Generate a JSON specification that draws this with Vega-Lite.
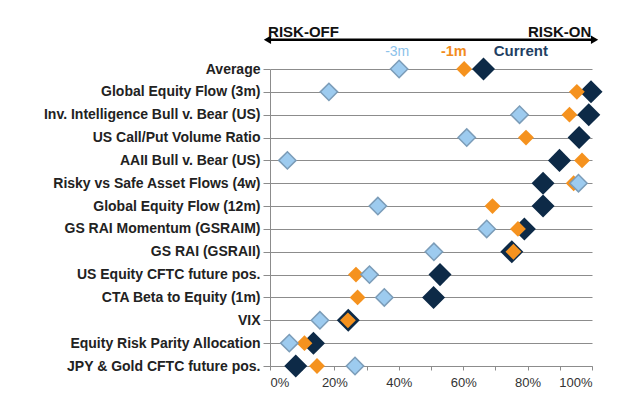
{
  "$schema": "https://vega.github.io/schema/vega-lite/v6.json",
  "width": 322,
  "height": 297,
  "autosize": {"type": "none"},
  "padding": {"left": 270, "top": 69, "right": 38, "bottom": 35},
  "background": "white",
  "config": {
    "view": {"stroke": null},
    "font": "Liberation Sans",
    "axisX": {
      "values": [0, 20, 40, 60, 80, 100],
      "labelExpr": "datum.value + '%'",
      "grid": false,
      "domainColor": "#8c8c8c",
      "tickColor": "#8c8c8c",
      "tickSize": 4,
      "labelFontSize": 13,
      "labelColor": "#333333",
      "labelPadding": 6,
      "title": null
    }
  },
  "datasets": {
    "scores": [
      {"metric": "Average", "period": "-3m", "value": 40.1},
      {"metric": "Average", "period": "-1m", "value": 60.3},
      {"metric": "Average", "period": "Current", "value": 66.3},
      {"metric": "Global Equity Flow (3m)", "period": "-3m", "value": 18.3},
      {"metric": "Global Equity Flow (3m)", "period": "-1m", "value": 95.3},
      {"metric": "Global Equity Flow (3m)", "period": "Current", "value": 99.7},
      {"metric": "Inv. Intelligence Bull v. Bear (US)", "period": "-3m", "value": 77.5},
      {"metric": "Inv. Intelligence Bull v. Bear (US)", "period": "-1m", "value": 93.0},
      {"metric": "Inv. Intelligence Bull v. Bear (US)", "period": "Current", "value": 99.0},
      {"metric": "US Call/Put Volume Ratio", "period": "-3m", "value": 61.1},
      {"metric": "US Call/Put Volume Ratio", "period": "-1m", "value": 79.5},
      {"metric": "US Call/Put Volume Ratio", "period": "Current", "value": 96.0},
      {"metric": "AAII Bull v. Bear (US)", "period": "-3m", "value": 5.4},
      {"metric": "AAII Bull v. Bear (US)", "period": "-1m", "value": 96.9},
      {"metric": "AAII Bull v. Bear (US)", "period": "Current", "value": 89.9},
      {"metric": "Risky vs Safe Asset Flows (4w)", "period": "-3m", "value": 95.8},
      {"metric": "Risky vs Safe Asset Flows (4w)", "period": "-1m", "value": 94.3},
      {"metric": "Risky vs Safe Asset Flows (4w)", "period": "Current", "value": 84.8},
      {"metric": "Global Equity Flow (12m)", "period": "-3m", "value": 33.5},
      {"metric": "Global Equity Flow (12m)", "period": "-1m", "value": 69.1},
      {"metric": "Global Equity Flow (12m)", "period": "Current", "value": 84.8},
      {"metric": "GS RAI Momentum (GSRAIM)", "period": "-3m", "value": 67.3},
      {"metric": "GS RAI Momentum (GSRAIM)", "period": "-1m", "value": 77.0},
      {"metric": "GS RAI Momentum (GSRAIM)", "period": "Current", "value": 79.0},
      {"metric": "GS RAI (GSRAII)", "period": "-3m", "value": 50.9},
      {"metric": "GS RAI (GSRAII)", "period": "-1m", "value": 75.6},
      {"metric": "GS RAI (GSRAII)", "period": "Current", "value": 75.1},
      {"metric": "US Equity CFTC future pos.", "period": "-3m", "value": 30.9},
      {"metric": "US Equity CFTC future pos.", "period": "-1m", "value": 26.7},
      {"metric": "US Equity CFTC future pos.", "period": "Current", "value": 52.8},
      {"metric": "CTA Beta to Equity (1m)", "period": "-3m", "value": 35.5},
      {"metric": "CTA Beta to Equity (1m)", "period": "-1m", "value": 27.2},
      {"metric": "CTA Beta to Equity (1m)", "period": "Current", "value": 50.8},
      {"metric": "VIX", "period": "-3m", "value": 15.5},
      {"metric": "VIX", "period": "-1m", "value": 24.2},
      {"metric": "VIX", "period": "Current", "value": 24.3},
      {"metric": "Equity Risk Parity Allocation", "period": "-3m", "value": 6.0},
      {"metric": "Equity Risk Parity Allocation", "period": "-1m", "value": 10.7},
      {"metric": "Equity Risk Parity Allocation", "period": "Current", "value": 13.5},
      {"metric": "JPY & Gold CFTC future pos.", "period": "-3m", "value": 26.4},
      {"metric": "JPY & Gold CFTC future pos.", "period": "-1m", "value": 14.6},
      {"metric": "JPY & Gold CFTC future pos.", "period": "Current", "value": 8.0}
    ],
    "labels": [
      {"text": "RISK-OFF", "x": -0.6, "row": -1.42, "kind": "left"},
      {"text": "RISK-ON", "x": 99.8, "row": -1.42, "kind": "right"},
      {"text": "-3m", "x": 39.5, "row": -0.56, "kind": "3m"},
      {"text": "-1m", "x": 57.1, "row": -0.56, "kind": "1m"},
      {"text": "Current", "x": 77.9, "row": -0.56, "kind": "cur"}
    ],
    "arrow": [
      {"from": -1.0, "to": 101.0, "row": -1.28}
    ],
    "heads": [
      {"x": -0.8, "row": -1.28, "shape": "triangle-left"},
      {"x": 100.8, "row": -1.28, "shape": "triangle-right"}
    ]
  },
  "layer": [
    {
      "data": {"name": "scores"},
      "encoding": {
        "x": {"field": "value", "type": "quantitative", "scale": {"domain": [0, 100], "nice": false}},
        "y": {
          "field": "metric",
          "type": "nominal",
          "scale": {
            "type": "point",
            "padding": 0,
            "domain": [
              "Average",
              "Global Equity Flow (3m)",
              "Inv. Intelligence Bull v. Bear (US)",
              "US Call/Put Volume Ratio",
              "AAII Bull v. Bear (US)",
              "Risky vs Safe Asset Flows (4w)",
              "Global Equity Flow (12m)",
              "GS RAI Momentum (GSRAIM)",
              "GS RAI (GSRAII)",
              "US Equity CFTC future pos.",
              "CTA Beta to Equity (1m)",
              "VIX",
              "Equity Risk Parity Allocation",
              "JPY & Gold CFTC future pos."
            ]
          },
          "axis": {
            "title": null,
            "grid": true,
            "gridColor": "#8c8c8c",
            "gridWidth": 1,
            "domainColor": "#8c8c8c",
            "tickColor": "#8c8c8c",
            "tickSize": 7,
            "labelPadding": 3,
            "labelFontSize": 14,
            "labelFontWeight": "bold",
            "labelColor": "#222222",
            "labelFont": "Liberation Sans",
            "labelLimit": 0
          }
        }
      },
      "layer": [
        {
          "transform": [{"filter": "datum.period === 'Current'"}],
          "mark": {"type": "point", "shape": "diamond", "filled": true, "size": 530, "color": "#0d2a47", "opacity": 1}
        },
        {
          "transform": [{"filter": "datum.period === '-1m'"}],
          "mark": {"type": "point", "shape": "diamond", "filled": true, "size": 250, "color": "#f5921e", "opacity": 1}
        },
        {
          "transform": [{"filter": "datum.period === '-3m'"}],
          "mark": {"type": "point", "shape": "diamond", "filled": true, "size": 300, "fill": "#9dcbef", "stroke": "#7b9cb8", "strokeWidth": 1.5, "opacity": 1}
        }
      ]
    },
    {
      "encoding": {
        "y": {"field": "row", "type": "quantitative", "scale": {"domain": [0, 13], "nice": false, "zero": false, "reverse": true}, "axis": null}
      },
      "layer": [
        {
          "data": {"name": "arrow"},
          "mark": {"type": "rule", "color": "#000000", "strokeWidth": 2.5},
          "encoding": {
            "x": {"field": "from", "type": "quantitative", "scale": {"domain": [0, 100], "nice": false}},
            "x2": {"field": "to"}
          }
        },
        {
          "data": {"name": "heads"},
          "mark": {"type": "point", "filled": true, "size": 70, "color": "#000000", "opacity": 1},
          "encoding": {
            "x": {"field": "x", "type": "quantitative", "scale": {"domain": [0, 100], "nice": false}},
            "shape": {"field": "shape", "type": "nominal", "scale": null}
          }
        },
        {
          "data": {"name": "labels"},
          "transform": [{"filter": "datum.kind === 'left'"}],
          "mark": {"type": "text", "fontSize": 15, "fontWeight": "bold", "color": "#111111", "baseline": "alphabetic", "align": "left", "font": "Liberation Sans"},
          "encoding": {
            "x": {"field": "x", "type": "quantitative", "scale": {"domain": [0, 100], "nice": false}},
            "text": {"field": "text"}
          }
        },
        {
          "data": {"name": "labels"},
          "transform": [{"filter": "datum.kind === 'right'"}],
          "mark": {"type": "text", "fontSize": 15, "fontWeight": "bold", "color": "#111111", "baseline": "alphabetic", "align": "right", "font": "Liberation Sans"},
          "encoding": {
            "x": {"field": "x", "type": "quantitative", "scale": {"domain": [0, 100], "nice": false}},
            "text": {"field": "text"}
          }
        },
        {
          "data": {"name": "labels"},
          "transform": [{"filter": "datum.kind === '3m'"}],
          "mark": {"type": "text", "fontSize": 14, "fontWeight": "normal", "color": "#8cc2ea", "baseline": "alphabetic", "align": "center", "font": "Liberation Sans"},
          "encoding": {
            "x": {"field": "x", "type": "quantitative", "scale": {"domain": [0, 100], "nice": false}},
            "text": {"field": "text"}
          }
        },
        {
          "data": {"name": "labels"},
          "transform": [{"filter": "datum.kind === '1m'"}],
          "mark": {"type": "text", "fontSize": 14.5, "fontWeight": "bold", "color": "#f28c1e", "baseline": "alphabetic", "align": "center", "font": "Liberation Sans"},
          "encoding": {
            "x": {"field": "x", "type": "quantitative", "scale": {"domain": [0, 100], "nice": false}},
            "text": {"field": "text"}
          }
        },
        {
          "data": {"name": "labels"},
          "transform": [{"filter": "datum.kind === 'cur'"}],
          "mark": {"type": "text", "fontSize": 15, "fontWeight": "bold", "color": "#1f3f63", "baseline": "alphabetic", "align": "center", "font": "Liberation Sans"},
          "encoding": {
            "x": {"field": "x", "type": "quantitative", "scale": {"domain": [0, 100], "nice": false}},
            "text": {"field": "text"}
          }
        }
      ]
    }
  ],
  "resolve": {"scale": {"y": "independent"}}
}
